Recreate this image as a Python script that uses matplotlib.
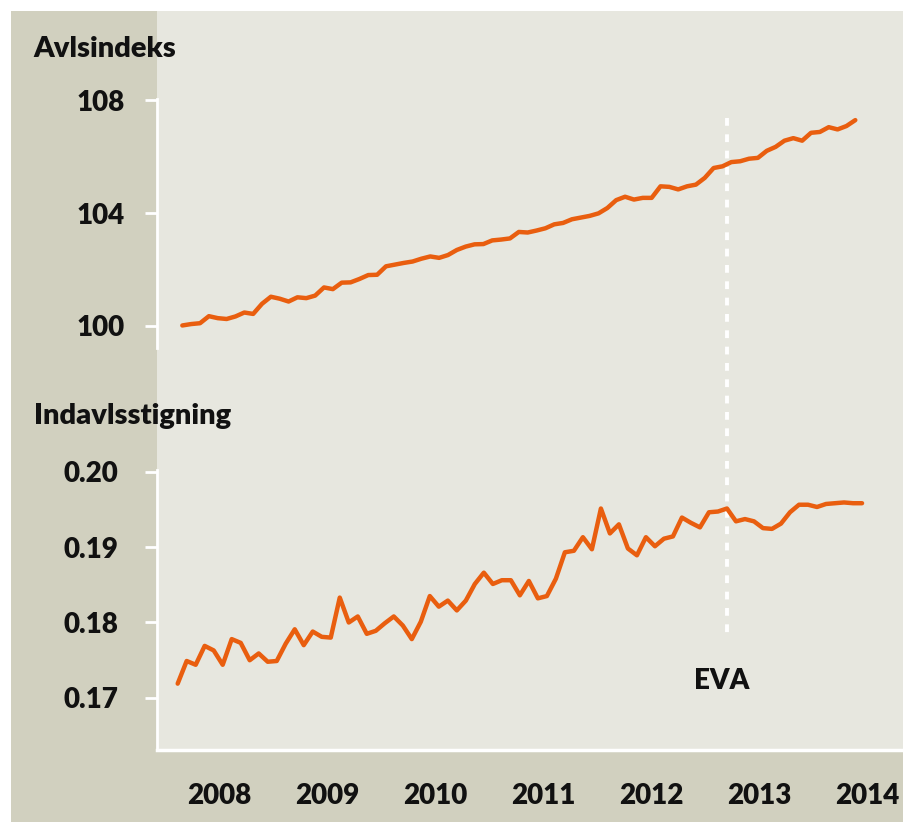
import numpy as np
import matplotlib
matplotlib.use("Agg")
import matplotlib.pyplot as plt
from matplotlib.patches import Rectangle
from matplotlib.lines import Line2D
from matplotlib.transforms import blended_transform_factory

plt.rcParams['font.family'] = ['Lato', 'DejaVu Sans']
plt.rcParams['font.weight'] = 'heavy'

# monthly values, Feb 2008 - Jun 2014
months = 2008 + np.arange(1, 78) / 12

avlsindeks = [
    100.01, 100.06, 100.09, 100.34, 100.27, 100.24, 100.33, 100.47, 100.42, 100.78,
    101.03, 100.96, 100.86, 101.01, 100.98, 101.07, 101.36, 101.30, 101.53, 101.54,
    101.66, 101.80, 101.81, 102.11, 102.17, 102.23, 102.28, 102.38, 102.46, 102.41,
    102.51, 102.69, 102.81, 102.89, 102.90, 103.03, 103.06, 103.10, 103.33, 103.31,
    103.38, 103.46, 103.60, 103.65, 103.78, 103.84, 103.90, 103.99, 104.18, 104.46,
    104.58, 104.48, 104.54, 104.54, 104.95, 104.93, 104.84, 104.95, 105.01, 105.25,
    105.60, 105.66, 105.81, 105.84, 105.93, 105.96, 106.21, 106.35, 106.57, 106.66,
    106.57, 106.85, 106.88, 107.05, 106.97, 107.09, 107.30,
]

indavl = [
    0.1719, 0.1749, 0.1744, 0.1769, 0.1763, 0.1744, 0.1778, 0.1773, 0.1750, 0.1759,
    0.1748, 0.1749, 0.1772, 0.1791, 0.1770, 0.1788, 0.1781, 0.1780, 0.1833, 0.1800,
    0.1808, 0.1785, 0.1789, 0.1799, 0.1808, 0.1796, 0.1778, 0.1801, 0.1835, 0.1821,
    0.1829, 0.1816, 0.1829, 0.1851, 0.1866, 0.1851, 0.1856, 0.1856, 0.1836, 0.1855,
    0.1832, 0.1835, 0.1858, 0.1893, 0.1895, 0.1913, 0.1897, 0.1951, 0.1918, 0.1930,
    0.1898, 0.1889, 0.1913, 0.1901, 0.1911, 0.1914, 0.1939, 0.1932, 0.1926, 0.1946,
    0.1947, 0.1951, 0.1934, 0.1937, 0.1934, 0.1925, 0.1924, 0.1931, 0.1946, 0.1956,
    0.1956, 0.1953, 0.1957, 0.1958, 0.1959, 0.1958, 0.1958,
]

years = [2008, 2009, 2010, 2011, 2012, 2013, 2014]
eva_date = 2013.167

ticks_top = [100, 104, 108]
ticks_bottom = [0.17, 0.18, 0.19, 0.20]

orange = '#e95e0f'
dark = '#d1d0bf'
light = '#e7e7df'
ink = '#111111'

W, H = 904, 822
fig = plt.figure(figsize=(W / 100, H / 100), dpi=100)
fig.patch.set_facecolor('white')

def frac(x0, y0, x1, y1):
    # pixel box (from top-left) -> figure fraction
    return x0 / W, 1 - y1 / H, (x1 - x0) / W, (y1 - y0) / H

for box, col in [((11, 11, 157, 822), dark), ((157, 750, 904, 822), dark),
                 ((157, 11, 904, 750), light)]:
    x, y, w, h = frac(*box)
    fig.patches.append(Rectangle((x, y), w, h, transform=fig.transFigure,
                                 facecolor=col, edgecolor='none', zorder=-5))

ax1 = fig.add_axes(frac(157, 99, 904, 348))
ax2 = fig.add_axes(frac(157, 470, 904, 750))

for ax in (ax1, ax2):
    ax.set_facecolor('none')
    for s in ax.spines.values():
        s.set_visible(False)
    ax.spines['left'].set_visible(True)
    ax.spines['left'].set_color('white')
    ax.spines['left'].set_linewidth(2)
ax2.spines['bottom'].set_visible(True)
ax2.spines['bottom'].set_color('white')
ax2.spines['bottom'].set_linewidth(2.5)

ax1.plot(months, avlsindeks, color=orange, lw=3.2, solid_joinstyle='round',
         solid_capstyle='round')
ax2.plot(months, indavl, color=orange, lw=3.2, solid_joinstyle='round',
         solid_capstyle='round')

ax1.set_xlim(2007.845, 2014.875)
ax1.set_ylim(99.21, 108.05)
ax2.set_xlim(2007.892, 2014.805)
ax2.set_ylim(0.16311, 0.2002)

ax1.set_yticks(ticks_top, [str(t) for t in ticks_top])
ax2.set_yticks(ticks_bottom, ['%.2f' % t for t in ticks_bottom])
ax1.set_xticks([])
ax2.set_xticks([y + 0.47 for y in years], [str(y) for y in years])

ax1.tick_params(axis='y', length=9, width=2, color='white', pad=14,
                labelsize=20, labelcolor=ink)
ax2.tick_params(axis='y', length=9, width=2, color='white', pad=19,
                labelsize=20, labelcolor=ink)
ax2.tick_params(axis='x', length=0, pad=24, labelsize=20, labelcolor=ink)

# EVA marker line across both panels
eva_tr = blended_transform_factory(ax2.transData, fig.transFigure)
fig.add_artist(Line2D([eva_date, eva_date], [1 - 118 / H, 1 - 636 / H],
                      transform=eva_tr, color='white', lw=2.8,
                      dashes=(2.0, 2.2), zorder=-1))
ax2.text(eva_date - 0.045, 0.1712, 'EVA', ha='center', va='baseline',
         fontsize=20, color=ink)

fig.text(33 / W, 1 - 57 / H, 'Avlsindeks', ha='left', va='baseline',
         fontsize=21, color=ink)
fig.text(34 / W, 1 - 424 / H, 'Indavlsstigning', ha='left', va='baseline',
         fontsize=21, color=ink)

fig.savefig('out.png', dpi=100)
